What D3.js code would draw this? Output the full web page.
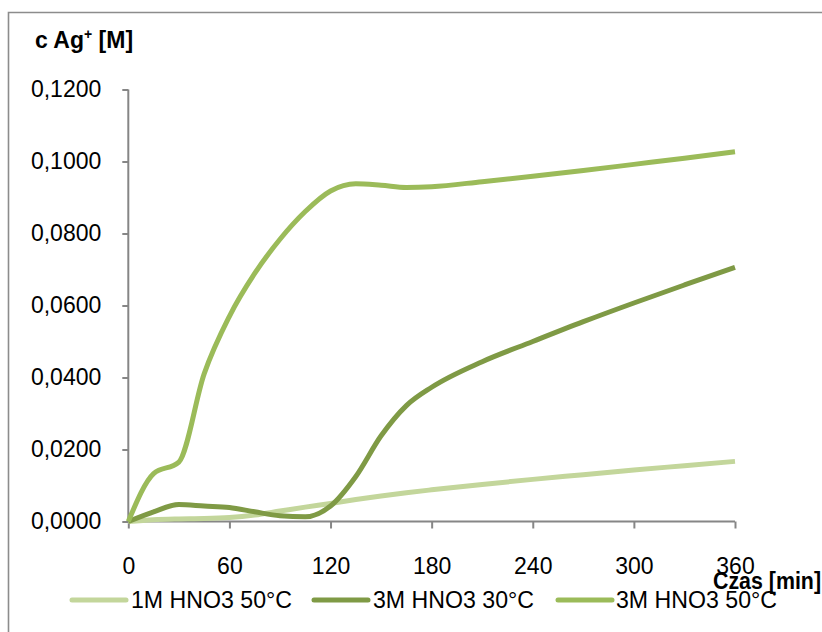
<!DOCTYPE html>
<html><head><meta charset="utf-8">
<script src="https://cdn.jsdelivr.net/npm/d3@7"></script>
<style>body{margin:0;background:#fff;} svg{display:block;} text{font-family:"Liberation Sans",Arial,sans-serif;}</style>
</head><body>
<svg id="chart" width="822" height="632"></svg>
<script>
const times = [0,15,30,45,60,75,90,105,120,135,150,165,180,210,240,270,300,330,360];
const s1M50 = [0,0.0005,0.0007,0.0008,0.0011,0.0018,0.0029,0.0040,0.0050,0.0061,0.0071,0.0080,0.0088,0.0103,0.0117,0.0130,0.0143,0.0155,0.0167];
const s3M30 = [0,0.0027,0.0047,0.0043,0.0039,0.0027,0.0016,0.0013,0.0043,0.0125,0.0238,0.0322,0.0373,0.0444,0.0500,0.0555,0.0607,0.0657,0.0706];
const s3M50 = [0,0.0133,0.0165,0.0410,0.0570,0.0689,0.0784,0.0861,0.0918,0.0938,0.0934,0.0928,0.0930,0.0944,0.0959,0.0975,0.0992,0.1009,0.1027];
const seriesNames = ["1M HNO3 50°C","3M HNO3 30°C","3M HNO3 50°C"];
const seriesColors = ["#c3d69b","#7f9a45","#9bbb59"];
const xTicks = [0,60,120,180,240,300,360];
const yTicks = [0,0.02,0.04,0.06,0.08,0.10,0.12];
const yTitleMain = "c Ag", yTitleSup = "+", yTitleEnd = " [M]";
const xTitle = "Czas [min]";

const svg = d3.select("#chart");
const x = d3.scaleLinear().domain([0,360]).range([128.3,735]);
const y = d3.scaleLinear().domain([0,0.12]).range([521.5,89.5]);
const fmt = v => d3.format(".4f")(v).replace(".", ",");

// outer border
svg.append("path").attr("d","M8.5,632V12.5H822").attr("fill","none").attr("stroke","#8c8c8c").attr("stroke-width",1.6);

// axes
const gy = svg.append("g").attr("transform","translate(128.3,0)")
  .call(d3.axisLeft(y).tickValues(yTicks).tickSize(6).tickPadding(21).tickFormat(fmt));
const gx = svg.append("g").attr("transform","translate(0,521.5)")
  .call(d3.axisBottom(x).tickValues(xTicks).tickSize(7).tickPadding(29).tickFormat(d3.format("d")));
[gx,gy].forEach(g=>{
  g.selectAll("line").attr("stroke","#868686").attr("stroke-width",2);
  g.select(".domain").remove();
  g.selectAll("text").attr("fill","#000").style("font-size","23px").style("font-family","Liberation Sans, Arial, sans-serif");
});
svg.append("line").attr("x1",128.3).attr("x2",128.3).attr("y1",y(0.12)).attr("y2",y(0)).attr("stroke","#868686").attr("stroke-width",2);
svg.append("line").attr("x1",x(0)).attr("x2",x(360)).attr("y1",y(0)).attr("y2",y(0)).attr("stroke","#868686").attr("stroke-width",2);

// lines
const allSeries = [s1M50, s3M30, s3M50];
const line = d3.line().x((d,i)=>x(times[i])).y(d=>y(d)).curve(d3.curveMonotoneX);
allSeries.forEach((s,k)=>{
  svg.append("path").datum(s).attr("d",line).attr("fill","none")
    .attr("stroke",seriesColors[k]).attr("stroke-width",5).attr("stroke-linejoin","round").attr("stroke-linecap","butt");
});

// y title
const yt = svg.append("text").attr("x",35).attr("y",48).style("font-size","23px").style("font-weight","bold").attr("fill","#000");
yt.append("tspan").text(yTitleMain);
yt.append("tspan").attr("dy",-9).style("font-size","14px").text(yTitleSup);
yt.append("tspan").attr("dy",9).text(yTitleEnd);

// legend
const legX = [72,314,558];
const legTextX = [131,373,616];
seriesNames.forEach((n,k)=>{
  svg.append("line").attr("x1",legX[k]).attr("x2",legX[k]+54).attr("y1",600).attr("y2",600)
    .attr("stroke",seriesColors[k]).attr("stroke-width",5).attr("stroke-linecap","round");
  svg.append("text").attr("x",legTextX[k]).attr("y",608).style("font-size","24px")
    .attr("textLength",161).attr("lengthAdjust","spacingAndGlyphs").attr("fill","#000").text(n);
});

// x title
svg.append("text").attr("x",713).attr("y",589).style("font-size","23px").style("font-weight","bold")
  .attr("textLength",108).attr("lengthAdjust","spacingAndGlyphs").attr("fill","#000").text(xTitle);
</script>
</body></html>
